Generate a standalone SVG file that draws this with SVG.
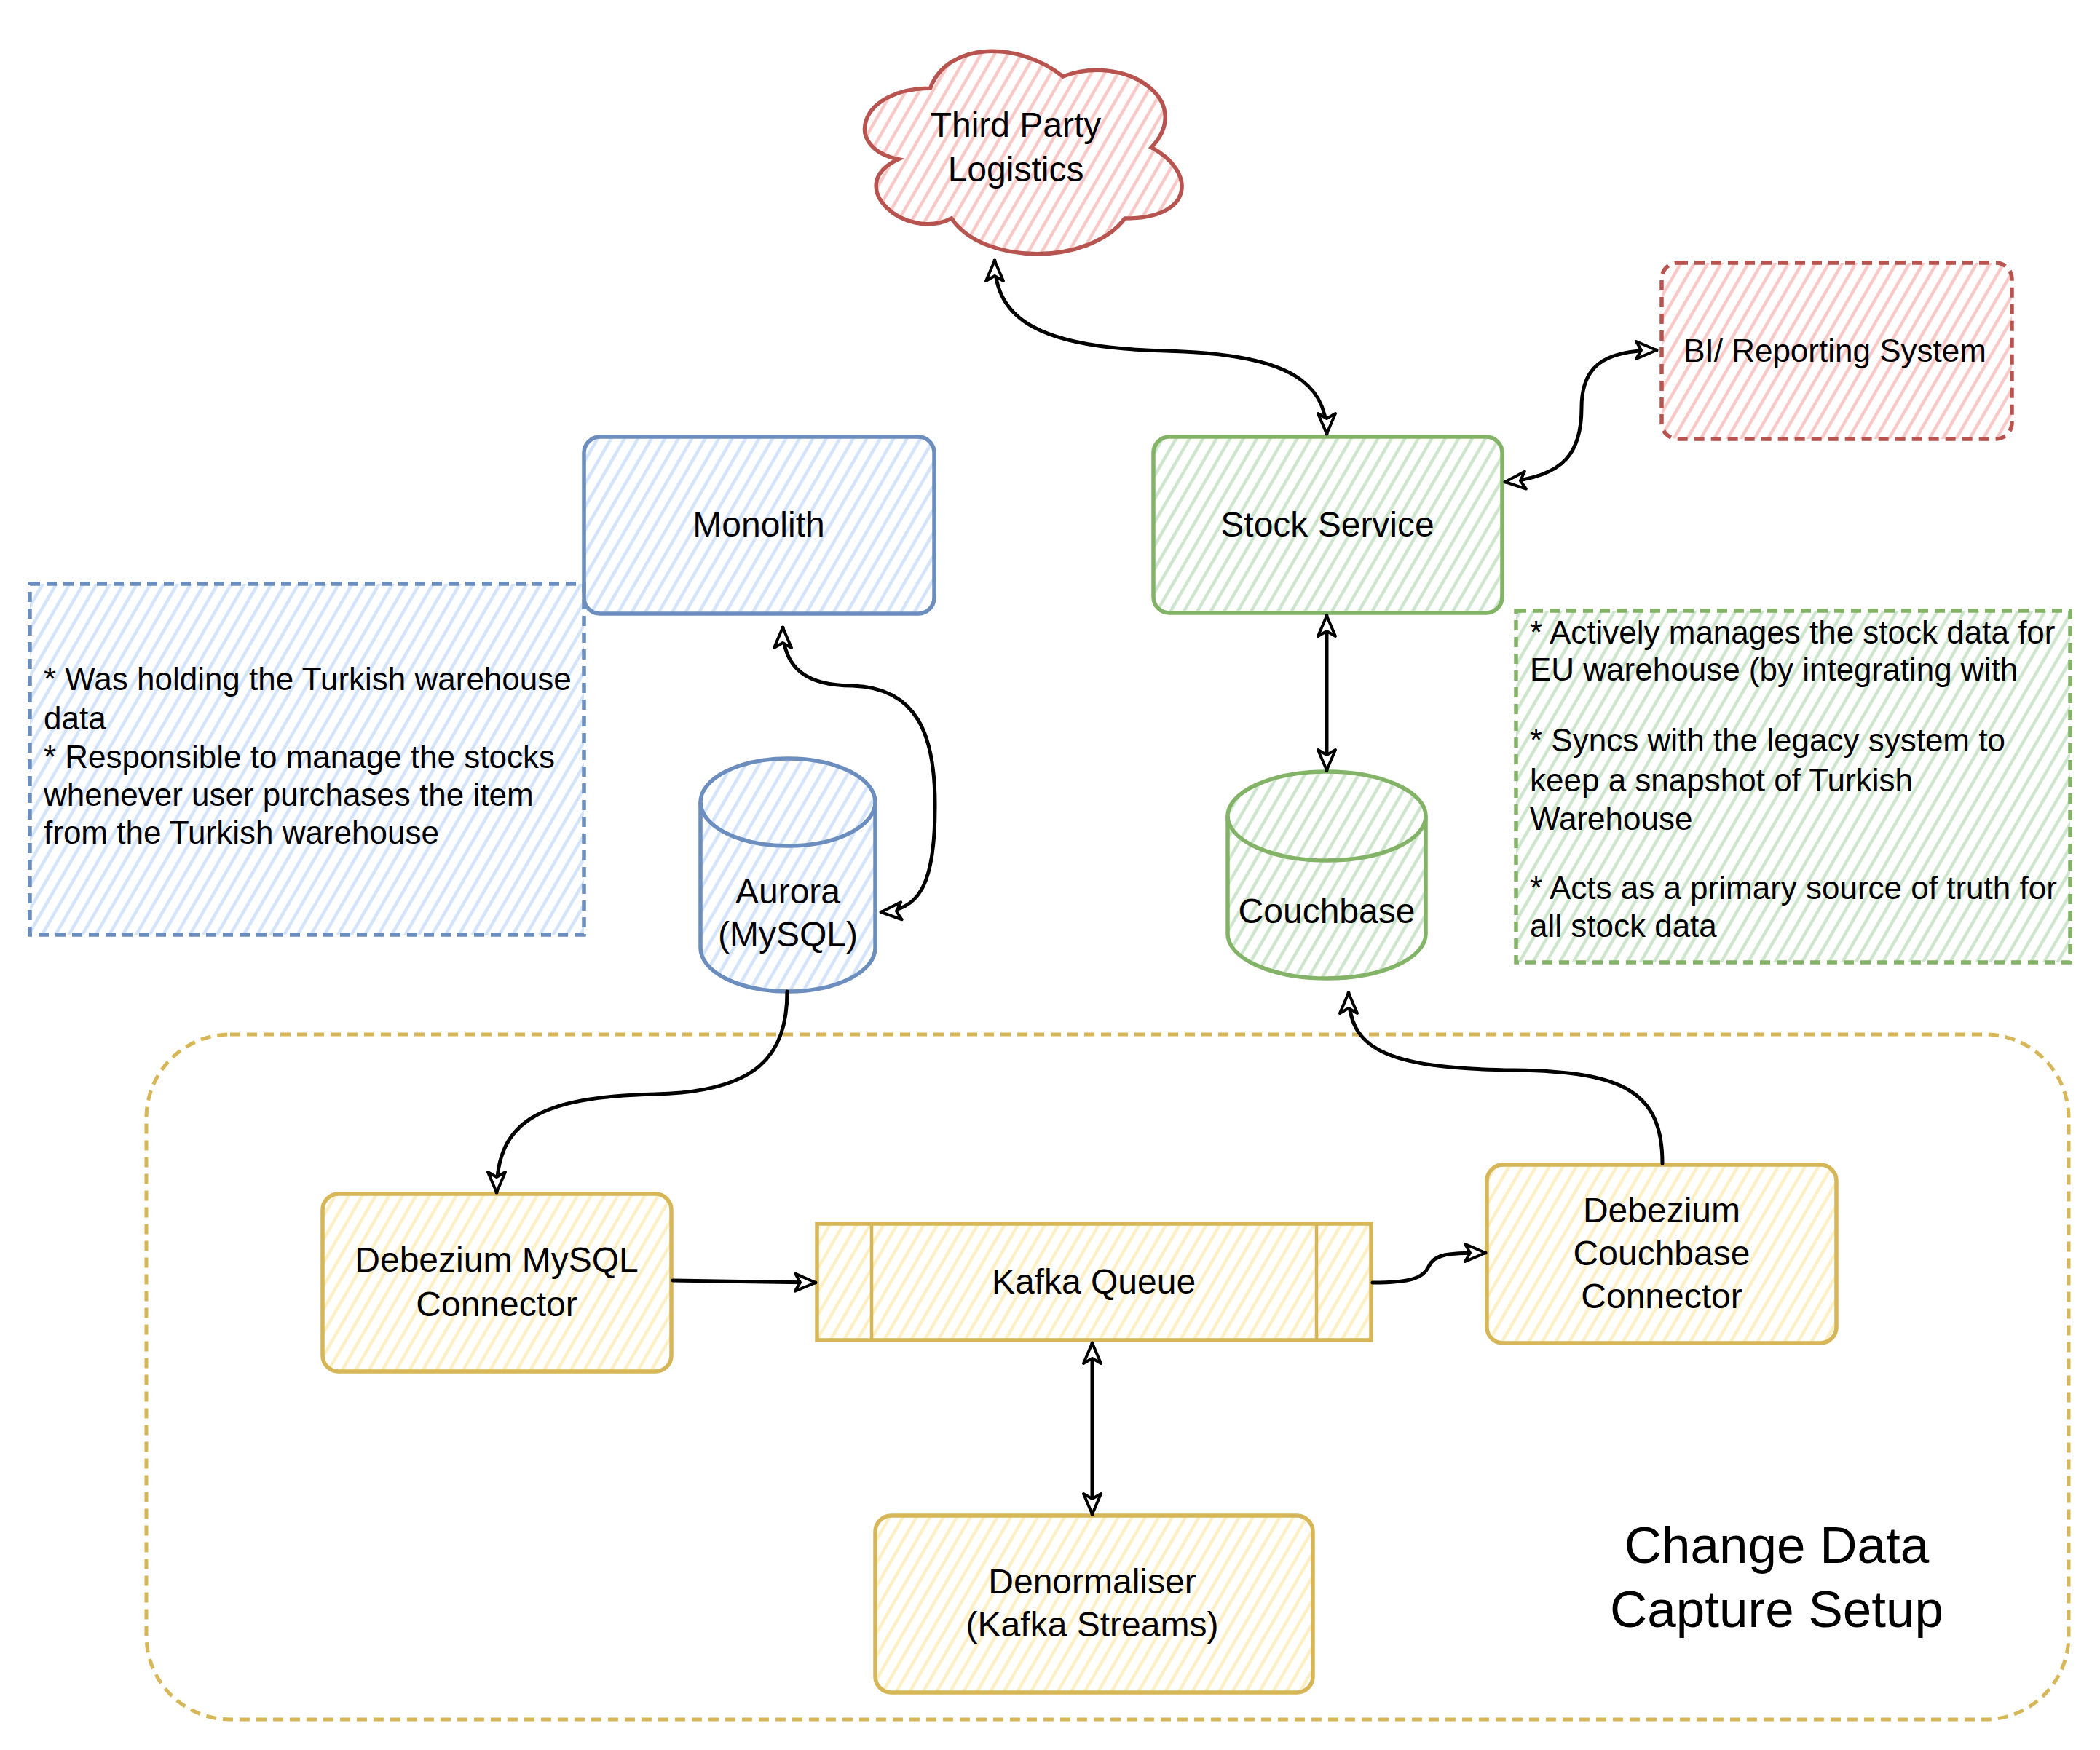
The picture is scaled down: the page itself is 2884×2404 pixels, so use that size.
<svg xmlns="http://www.w3.org/2000/svg" width="2884" height="2404" viewBox="0 0 2884 2404">
<style>
text{font-family:"Liberation Sans",Arial,Helvetica,sans-serif;fill:#000}
.lbl{font-size:48px;text-anchor:middle}
.note{font-size:44px}
.big{font-size:71px;text-anchor:middle}
.edge{fill:none;stroke:#000;stroke-width:5;stroke-linecap:round;stroke-linejoin:round}
.blue{stroke:#6c8ebf;stroke-width:5.5;fill:url(#hb)}
.green{stroke:#82b366;stroke-width:5.5;fill:url(#hg)}
.red{stroke:#b85450;stroke-width:5.5;fill:url(#hr)}
.yellow{stroke:#d6b656;stroke-width:5.5;fill:url(#hy)}
.dash{stroke-dasharray:14 9}
</style>
<defs>
<pattern id="hb" width="16" height="16" patternUnits="userSpaceOnUse" patternTransform="rotate(30)"><line x1="4" y1="0" x2="4" y2="16" stroke="#d2e3fa" stroke-width="4.5"/></pattern>
<pattern id="hg" width="16" height="16" patternUnits="userSpaceOnUse" patternTransform="rotate(30)"><line x1="4" y1="0" x2="4" y2="16" stroke="#cde5cc" stroke-width="4.5"/></pattern>
<pattern id="hr" width="16" height="16" patternUnits="userSpaceOnUse" patternTransform="rotate(30)"><line x1="4" y1="0" x2="4" y2="16" stroke="#f8c8c6" stroke-width="4.5"/></pattern>
<pattern id="hy" width="16" height="16" patternUnits="userSpaceOnUse" patternTransform="rotate(30)"><line x1="4" y1="0" x2="4" y2="16" stroke="#fdefc4" stroke-width="4.5"/></pattern>
<marker id="arr" viewBox="0 0 34 30" refX="31" refY="15" markerWidth="34" markerHeight="30" markerUnits="userSpaceOnUse" orient="auto-start-reverse">
<path d="M3,3 L31,15 L3,27 L10,15 Z" fill="#fff" stroke="#000" stroke-width="4" stroke-linejoin="round"/>
</marker>
</defs>
<rect width="2884" height="2404" fill="#fff"/>

<g id="cdc-container">
<rect x="201" y="1421" width="2640" height="941" rx="115" ry="115" fill="none" stroke="#d6b656" stroke-width="5" class="dash"/>
<text class="big" x="2440" y="2147">Change Data</text>
<text class="big" x="2440" y="2235">Capture Setup</text>
</g>

<g id="third-party-logistics">
<path class="red" d="M1277.5,121.25 C1180.3,121.25 1156,202.5 1233.8,218.75 C1156,254.5 1243.5,332.5 1306.7,300 C1350.4,365 1496.2,365 1544.8,300 C1642,300 1642,235 1581.3,202.5 C1642,137.5 1544.8,72.5 1459.75,105 C1399,56.25 1301.8,56.25 1277.5,121.25 Z"/>
<text class="lbl" x="1395" y="188">Third Party</text>
<text class="lbl" x="1395" y="249">Logistics</text>
</g>

<g id="bi-reporting">
<rect class="red dash" x="2282" y="361" width="481" height="242" rx="22"/>
<text class="lbl" x="2520" y="497" style="font-size:44px">BI/ Reporting System</text>
</g>

<g id="monolith-note">
<rect class="blue dash" x="41" y="802" width="761" height="482"/>
<text class="note" x="60" y="948">* Was holding the Turkish warehouse</text>
<text class="note" x="60" y="1002">data</text>
<text class="note" x="60" y="1055">* Responsible to manage the stocks</text>
<text class="note" x="60" y="1107">whenever user purchases the item</text>
<text class="note" x="60" y="1159">from the Turkish warehouse</text>
</g>

<g id="monolith">
<rect class="blue" x="802" y="600" width="481" height="243" rx="22"/>
<text class="lbl" x="1042" y="737">Monolith</text>
</g>

<g id="stock-service">
<rect class="green" x="1584" y="600" width="479" height="242" rx="22"/>
<text class="lbl" x="1823" y="737">Stock Service</text>
</g>

<g id="stock-note">
<rect class="green dash" x="2082" y="839" width="761" height="483"/>
<text class="note" x="2101" y="884">* Actively manages the stock data for</text>
<text class="note" x="2101" y="935">EU warehouse (by integrating with</text>
<text class="note" x="2101" y="1032">* Syncs with the legacy system to</text>
<text class="note" x="2101" y="1087">keep a snapshot of Turkish</text>
<text class="note" x="2101" y="1140">Warehouse</text>
<text class="note" x="2101" y="1235">* Acts as a primary source of truth for</text>
<text class="note" x="2101" y="1287">all stock data</text>
</g>

<g id="aurora">
<path class="blue" d="M962,1102 A120,60 0 0 1 1202,1102 L1202,1302 A120,60 0 0 1 962,1302 Z"/>
<path d="M962,1102 A120,60 0 0 0 1202,1102" fill="none" stroke="#6c8ebf" stroke-width="5.5"/>
<text class="lbl" x="1082" y="1241">Aurora</text>
<text class="lbl" x="1082" y="1300">(MySQL)</text>
</g>

<g id="couchbase">
<path class="green" d="M1686,1121 A136,61 0 0 1 1958,1121 L1958,1283 A136,61 0 0 1 1686,1283 Z"/>
<path d="M1686,1121 A136,61 0 0 0 1958,1121" fill="none" stroke="#82b366" stroke-width="5.5"/>
<text class="lbl" x="1822" y="1268">Couchbase</text>
</g>

<g id="debezium-mysql">
<rect class="yellow" x="443" y="1640" width="479" height="244" rx="22"/>
<text class="lbl" x="682" y="1747">Debezium MySQL</text>
<text class="lbl" x="682" y="1808">Connector</text>
</g>

<g id="kafka-queue">
<rect class="yellow" x="1122" y="1681" width="761" height="160"/>
<line x1="1197" y1="1681" x2="1197" y2="1841" stroke="#d6b656" stroke-width="4.5"/>
<line x1="1808" y1="1681" x2="1808" y2="1841" stroke="#d6b656" stroke-width="4.5"/>
<text class="lbl" x="1502" y="1777">Kafka Queue</text>
</g>

<g id="debezium-couchbase">
<rect class="yellow" x="2042" y="1600" width="480" height="245" rx="22"/>
<text class="lbl" x="2282" y="1679">Debezium</text>
<text class="lbl" x="2282" y="1738">Couchbase</text>
<text class="lbl" x="2282" y="1797">Connector</text>
</g>

<g id="denormaliser">
<rect class="yellow" x="1202" y="2082" width="601" height="243" rx="22"/>
<text class="lbl" x="1500" y="2189">Denormaliser</text>
<text class="lbl" x="1500" y="2248">(Kafka Streams)</text>
</g>

<g id="connectors">
<path class="edge" marker-start="url(#arr)" marker-end="url(#arr)" d="M1366,358 C1366,440 1430,478 1600,482 C1760,486 1822,520 1822,596"/>
<path class="edge" marker-start="url(#arr)" marker-end="url(#arr)" d="M2067,662 C2150,655 2172,620 2172,560 C2172,505 2200,481 2275,481"/>
<path class="edge" marker-start="url(#arr)" marker-end="url(#arr)" d="M1822,846 L1822,1058"/>
<path class="edge" marker-start="url(#arr)" marker-end="url(#arr)" d="M1075,862 C1075,920 1110,942 1171,942 C1260,945 1285,1010 1284,1110 C1284,1220 1260,1250 1210,1253"/>
<path class="edge" marker-end="url(#arr)" d="M1081,1362 C1081,1450 1040,1500 900,1503 C740,1507 682,1540 682,1638"/>
<path class="edge" marker-end="url(#arr)" d="M924,1759 L1120,1762"/>
<path class="edge" marker-end="url(#arr)" d="M1885,1762 C1940,1762 1955,1755 1962,1740 C1970,1722 1990,1721 2040,1721"/>
<path class="edge" marker-start="url(#arr)" marker-end="url(#arr)" d="M1500,1845 L1500,2080"/>
<path class="edge" marker-end="url(#arr)" d="M2283,1598 C2283,1500 2230,1472 2080,1470 C1900,1468 1852,1440 1852,1364"/>
</g>
</svg>
